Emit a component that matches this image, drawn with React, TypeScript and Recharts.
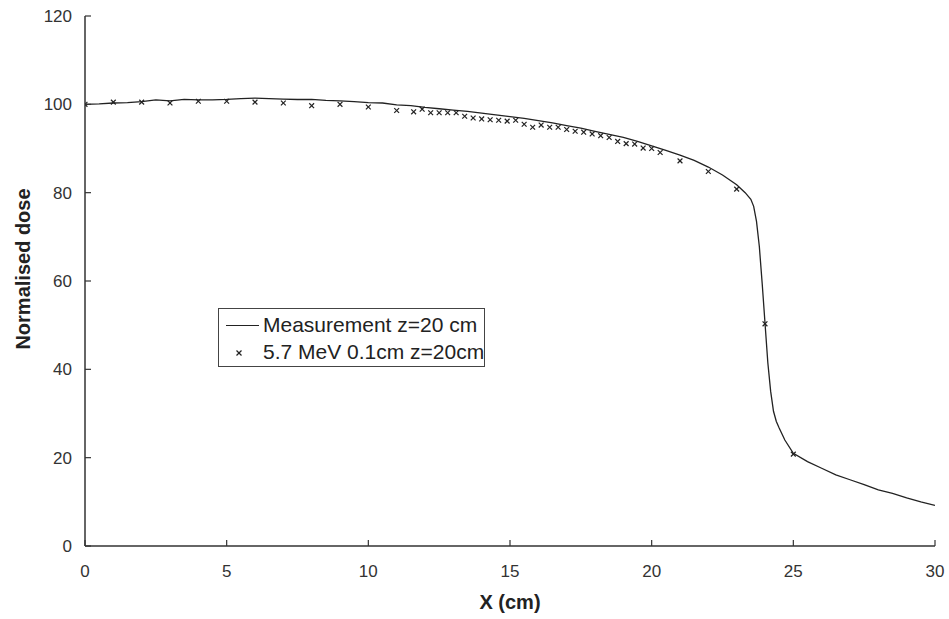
import { ComposedChart, Line, Scatter, XAxis, YAxis } from 'recharts';

// measured profile (cm, normalised dose)
const measX = [0, 0.5, 1, 1.5, 2, 2.5, 3, 3.5, 4, 4.5, 5, 5.5, 6, 6.5, 7, 7.5, 8, 8.5, 9, 9.5, 10, 10.5, 11, 11.5, 12, 12.5, 13, 13.5, 14, 14.5, 15, 15.5, 16, 16.5, 17, 17.5, 18, 18.5, 19, 19.5, 20, 20.5, 21, 21.5, 22, 22.5, 23, 23.3, 23.5, 23.6, 23.7, 23.8, 23.9, 24, 24.1, 24.2, 24.3, 24.4, 24.5, 24.7, 25, 25.5, 26, 26.5, 27, 27.5, 28, 28.5, 29, 29.5, 30];
const measY = [100.0, 100.1, 100.3, 100.4, 100.6, 101.0, 100.8, 101.1, 101.0, 101.0, 101.1, 101.3, 101.4, 101.3, 101.2, 101.1, 101.1, 100.9, 100.8, 100.6, 100.4, 100.3, 99.9, 99.7, 99.3, 99.0, 98.7, 98.4, 98.0, 97.6, 97.2, 96.8, 96.3, 95.8, 95.2, 94.6, 93.9, 93.2, 92.5, 91.6, 90.6, 89.6, 88.5, 87.3, 85.8, 84.0, 81.8, 80.0, 78.5, 76.9, 73.5, 67.8, 59.5, 50.5, 41.5, 35.0, 30.5, 28.2, 26.7, 24.0, 21.0, 19.1, 17.6, 16.1, 15.0, 13.9, 12.7, 11.9, 10.9, 10.0, 9.2];

// Monte Carlo points
const simX = [0, 1, 2, 3, 4, 5, 6, 7, 8, 9, 10, 11, 11.6, 11.9, 12.2, 12.5, 12.8, 13.1, 13.4, 13.7, 14.0, 14.3, 14.6, 14.9, 15.2, 15.5, 15.8, 16.1, 16.4, 16.7, 17.0, 17.3, 17.6, 17.9, 18.2, 18.5, 18.8, 19.1, 19.4, 19.7, 20.0, 20.3, 21, 22, 23, 24, 25];
const simY = [100.0, 100.5, 100.5, 100.3, 100.7, 100.7, 100.5, 100.3, 99.7, 100.0, 99.4, 98.6, 98.3, 98.9, 98.1, 98.1, 98.1, 98.1, 97.3, 96.9, 96.7, 96.5, 96.4, 96.2, 96.4, 95.5, 94.8, 95.3, 94.8, 94.8, 94.3, 93.9, 93.7, 93.3, 92.9, 92.5, 91.6, 91.1, 91.0, 90.1, 90.0, 89.1, 87.2, 84.8, 80.8, 50.3, 20.8];

const xTicks = [0, 5, 10, 15, 20, 25, 30];
const yTicks = [0, 20, 40, 60, 80, 100, 120];

const FONT = '"Liberation Sans", Arial, sans-serif';
const INK = '#333';

const measData = measX.map((x, i) => ({ x, y: measY[i] }));
const simData = simX.map((x, i) => ({ x, y: simY[i] }));

// ticks point inwards, like the original
function XTick(props: any) {
  const { x, y, payload } = props;
  return (
    <g>
      <line x1={x} x2={x} y1={y} y2={y - 6} stroke={INK} strokeWidth={1.2} />
      <text x={x} y={y + 31} textAnchor="middle" fontSize={17} fontFamily={FONT} fill={INK}>
        {payload.value}
      </text>
    </g>
  );
}

function YTick(props: any) {
  const { x, y, payload } = props;
  return (
    <g>
      <line x1={x} x2={x + 6} y1={y} y2={y} stroke={INK} strokeWidth={1.2} />
      <text x={x - 13} y={y} dy="0.36em" textAnchor="end" fontSize={17} fontFamily={FONT} fill={INK}>
        {payload.value}
      </text>
    </g>
  );
}

function Cross(props: any) {
  const { cx, cy } = props;
  const s = 2.4;
  return (
    <g stroke="#222" strokeWidth={1.2}>
      <line x1={cx - s} y1={cy - s} x2={cx + s} y2={cy + s} />
      <line x1={cx - s} y1={cy + s} x2={cx + s} y2={cy - s} />
    </g>
  );
}

export default function App() {
  return (
    <div style={{ position: 'absolute', left: 0, top: 0, width: 949, height: 619, background: '#fff' }}>
      <ComposedChart width={949} height={619} margin={{ top: 16, right: 14, bottom: 0, left: 0 }}>
        <XAxis
          dataKey="x"
          type="number"
          domain={[0, 30]}
          ticks={xTicks}
          height={73}
          tickSize={0}
          tickMargin={0}
          tickLine={false}
          tick={<XTick />}
          axisLine={{ stroke: INK, strokeWidth: 1.5 }}
          allowDataOverflow
          label={{ value: 'X (cm)', position: 'insideBottom', offset: 10, style: { fontFamily: FONT, fontSize: 20, fontWeight: 'bold', fill: '#222' } }}
        />
        <XAxis xAxisId="top" orientation="top" type="number" domain={[0, 30]} height={0} tick={false} tickLine={false} axisLine={{ stroke: INK, strokeWidth: 1.5 }} />
        <YAxis
          type="number"
          domain={[0, 120]}
          ticks={yTicks}
          width={85}
          tickSize={0}
          tickMargin={0}
          tickLine={false}
          tick={<YTick />}
          axisLine={{ stroke: INK, strokeWidth: 1.5 }}
          label={{ value: 'Normalised dose', angle: -90, position: 'insideLeft', offset: 23, dy: -12, style: { textAnchor: 'middle', fontFamily: FONT, fontSize: 20, fontWeight: 'bold', fill: '#222' } }}
        />
        <YAxis yAxisId="right" orientation="right" domain={[0, 120]} width={0} tick={false} tickLine={false} axisLine={{ stroke: INK, strokeWidth: 1.5 }} />
        <Line data={measData} dataKey="y" type="linear" stroke="#222" strokeWidth={1.3} dot={false} isAnimationActive={false} />
        <Scatter data={simData} dataKey="y" shape={<Cross />} isAnimationActive={false} />
      </ComposedChart>
      <div
        style={{
          position: 'absolute',
          left: 218,
          top: 308,
          width: 265,
          height: 57,
          border: '1px solid #444',
          fontFamily: FONT,
          fontSize: 21,
          color: '#222',
          boxSizing: 'content-box',
        }}
      >
        <div style={{ position: 'absolute', left: 7, top: 16, width: 33, height: 0, borderTop: '1.3px solid #222' }} />
        <div style={{ position: 'absolute', left: 44, top: 4, lineHeight: '23px', whiteSpace: 'nowrap' }}>Measurement z=20 cm</div>
        <svg style={{ position: 'absolute', left: 16, top: 40 }} width={8} height={8}>
          <line x1={1.5} y1={1.5} x2={6.5} y2={6.5} stroke="#222" strokeWidth={1.2} />
          <line x1={1.5} y1={6.5} x2={6.5} y2={1.5} stroke="#222" strokeWidth={1.2} />
        </svg>
        <div style={{ position: 'absolute', left: 44, top: 31, lineHeight: '23px', whiteSpace: 'nowrap' }}>5.7 MeV 0.1cm z=20cm</div>
      </div>
    </div>
  );
}
